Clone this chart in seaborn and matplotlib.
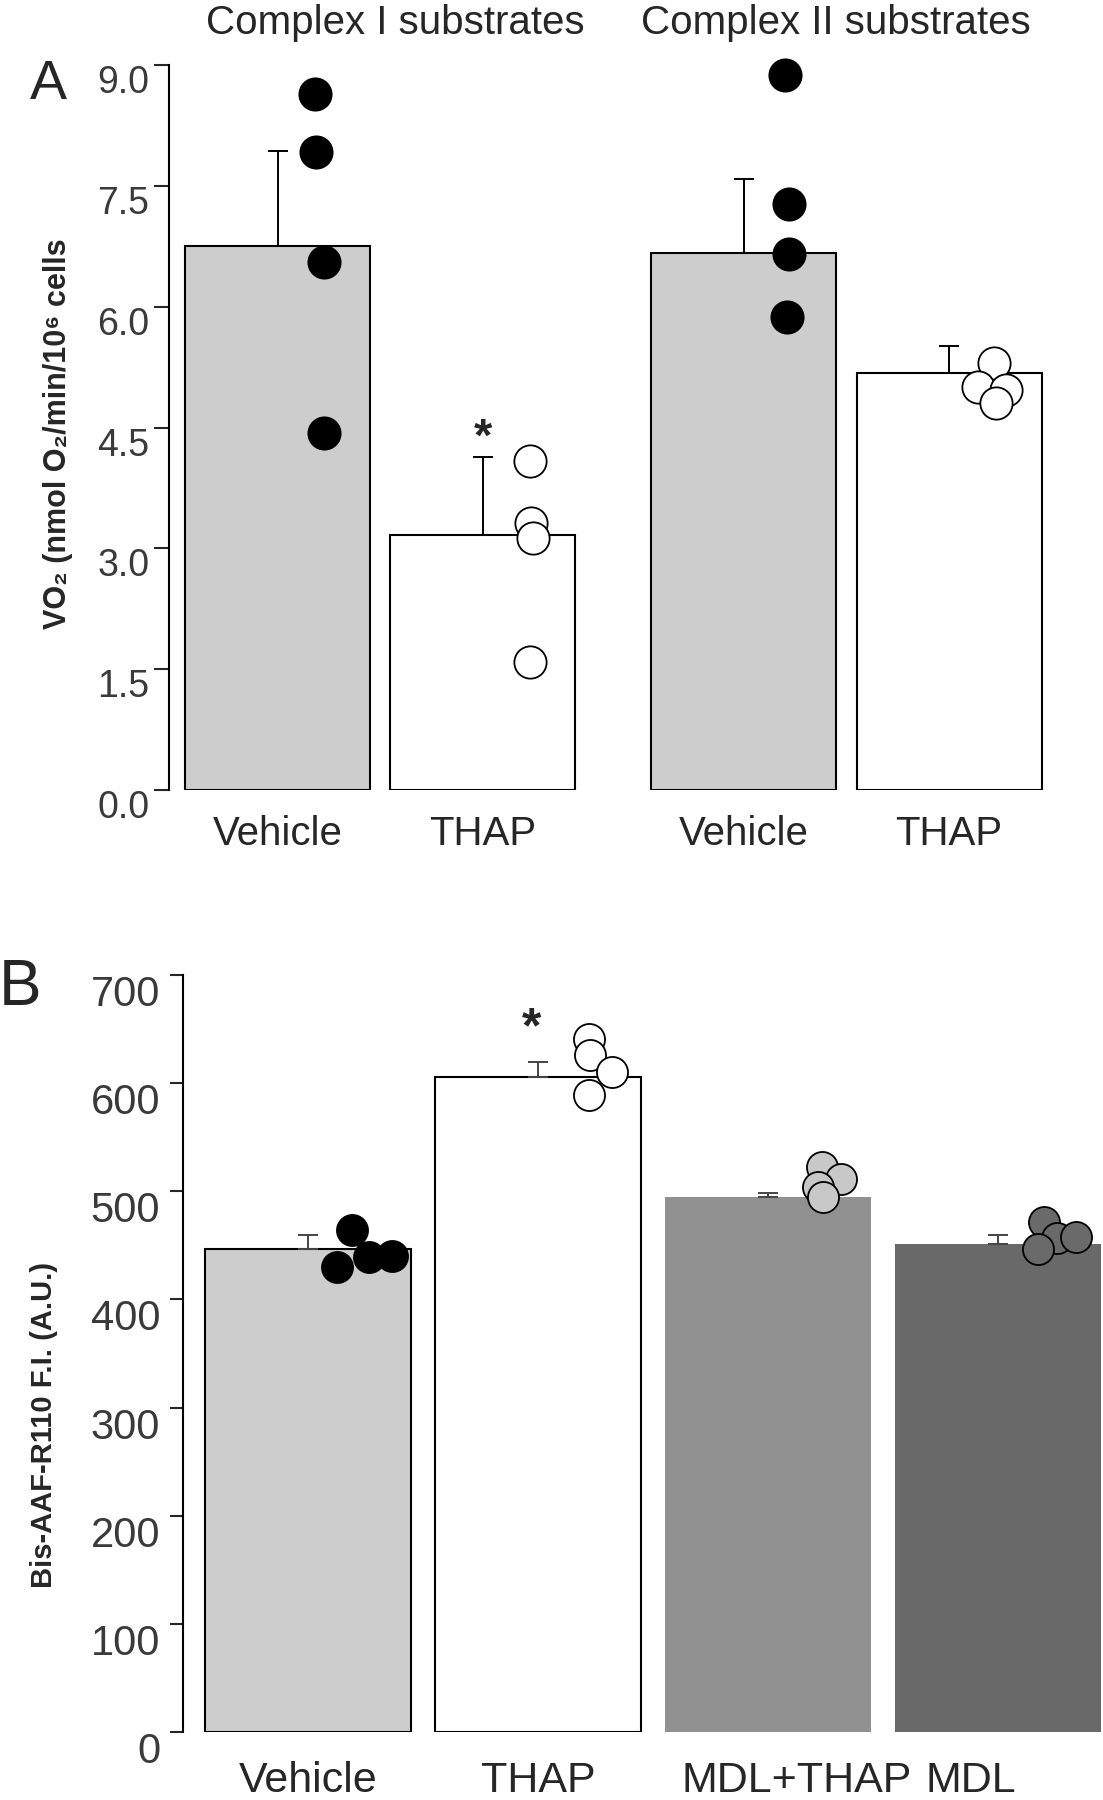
import numpy as np
import pandas as pd
import matplotlib
matplotlib.use('Agg')
import matplotlib.pyplot as plt
import matplotlib.transforms as mtransforms
import seaborn as sb

sb.set_style('ticks')
plt.rcParams['font.family'] = ['Liberation Sans', 'DejaVu Sans']
plt.rcParams['axes.linewidth'] = 1.5
plt.rcParams['axes.edgecolor'] = 'black'

# ---- panel A: oxygen consumption
a_titles = ['Complex I substrates', 'Complex II substrates']
a_names = ['Vehicle', 'THAP', 'Vehicle', 'THAP']
a_means = [6.75, 3.17, 6.67, 5.18]
a_sem = [1.18, 0.97, 0.91, 0.33]
a_points = [
    [8.64, 7.92, 6.55, 4.43],
    [4.08, 3.31, 3.13, 1.59],
    [8.88, 7.27, 6.66, 5.87],
    [5.30, 5.00, 4.97, 4.80],
]
a_yticks = [0.0, 1.5, 3.0, 4.5, 6.0, 7.5, 9.0]
a_signif = [False, True, False, False]

# ---- panel B: calpain activity
b_names = ['Vehicle', 'THAP', 'MDL+THAP', 'MDL']
b_means = [447, 606, 495, 451]
b_sem = [13, 14, 3, 9]
b_points = [
    [464, 430, 439.5, 440],
    [641, 626, 610, 589],
    [522, 511, 504, 495],
    [472, 457, 458, 447],
]
b_yticks = [0, 100, 200, 300, 400, 500, 600, 700]
b_signif = [False, True, False, False]

# styles
a_bar_colors = ['#cdcdcd', 'white', '#cdcdcd', 'white']
a_bar_edges = ['black'] * 4
a_dot_colors = ['black', 'white', 'black', 'white']
b_bar_colors = ['#cdcdcd', 'white', '#919191', '#696969']
b_bar_edges = ['black', 'black', 'none', 'none']
b_dot_colors = ['black', 'white', '#c8c8c8', '#6a6a6a']

# horizontal spread of the dots next to each bar (axis units)
a_jit = [[0.205, 0.21, 0.25, 0.25], [0.255, 0.26, 0.27, 0.255],
         [0.225, 0.245, 0.245, 0.235], [0.24, 0.155, 0.31, 0.255]]
b_jit = [[0.19, 0.125, 0.265, 0.365], [0.22, 0.225, 0.32, 0.22],
         [0.235, 0.32, 0.22, 0.24], [0.2, 0.26, 0.34, 0.175]]


def draw_panel(ax, pos, width, means, sem, points, colors, edges, dots, jit,
               ecolor, dot_size, signif, star_size, star_off):
    df = pd.DataFrame({'pos': pos, 'mean': means,
                       'key': [str(i) for i in range(len(pos))]})
    sb.barplot(data=df, x='pos', y='mean', hue='key',
               palette=dict(zip(df['key'], colors)), native_scale=True,
               width=width, errorbar=None, legend=False, saturation=1,
               ax=ax, zorder=1)
    for p, ec in zip(ax.patches, edges):
        p.set_edgecolor(ec)
        p.set_linewidth(1.5 if ec != 'none' else 0)

    ax.errorbar(pos, means, yerr=[np.zeros(len(sem)), sem], fmt='none',
                ecolor=ecolor, elinewidth=1.4, capsize=7.5, capthick=1.4,
                zorder=2)

    for x0, pts, c, j in zip(pos, points, dots, jit):
        sb.scatterplot(x=[x0 + d for d in j], y=pts, color=c, s=dot_size,
                       edgecolor='black', linewidth=1.3, ax=ax, zorder=4,
                       clip_on=False, legend=False)

    for x0, m, e, s in zip(pos, means, sem, signif):
        if s:
            ax.annotate('*', xy=(x0, m + e), xytext=star_off,
                        textcoords='offset points', ha='center',
                        va='baseline', fontsize=star_size,
                        fontweight='bold')


fig = plt.figure(figsize=(11.03, 18), dpi=100)

# ---------------- panel A
axA = fig.add_axes([169 / 1103, 1 - 790 / 1800, 885 / 1103, 725 / 1800])
a_pos = [g * 2.52 + i * 1.11 for g in range(2) for i in range(2)]
draw_panel(axA, a_pos, 1.0 / 1.11, a_means, a_sem, a_points, a_bar_colors,
           a_bar_edges, a_dot_colors, a_jit, 'black', 540, a_signif, 34,
           (0, 4.3))
axA.set_xlim(-0.5865, 4.197)
axA.set_ylim(0, 9)
axA.set_yticks(a_yticks, labels=[f'{v:.1f}' for v in a_yticks])
axA.set_xticks(a_pos, labels=a_names)
axA.tick_params(axis='y', length=11, width=1.5, pad=3, labelsize=27,
                labelcolor='#3a3a3a')
axA.tick_params(axis='x', length=0, pad=18, labelsize=29)
for lab in axA.get_yticklabels():
    lab.set_va('top')
sb.despine(ax=axA, bottom=True)
axA.set_xlabel('')
axA.set_ylabel('')

for g, t in enumerate(a_titles):
    xc = 395 if g == 0 else 836
    fig.text(xc / 1103, 1 - 23 / 1800, t, ha='center', va='center',
             fontsize=29)

fig.text(58 / 1103, 1 - 434 / 1800, 'VO₂ (nmol O₂/min/10⁶ cells',
         rotation=90, ha='center', va='center', fontsize=22,
         fontweight='bold')
fig.text(48 / 1103, 1 - 85 / 1800, 'A', ha='center', va='center',
         fontsize=40)

# ---------------- panel B
axB = fig.add_axes([183 / 1103, 1 - 1732 / 1800, 920 / 1103, 757 / 1800])
b_pos = list(range(len(b_names)))
draw_panel(axB, b_pos, 0.897, b_means, b_sem, b_points, b_bar_colors,
           b_bar_edges, b_dot_colors, b_jit, '#444444', 500, b_signif, 36,
           (-5, 13.5))
axB.set_xlim(-0.5458, 3.459)
axB.set_ylim(0, 700)
axB.set_yticks(b_yticks, labels=[str(v) for v in b_yticks])
axB.set_xticks(b_pos, labels=b_names)
axB.tick_params(axis='y', length=9.5, width=1.5, pad=7, labelsize=30,
                labelcolor='#3a3a3a')
axB.tick_params(axis='x', length=0, pad=21, labelsize=31)
for lab in axB.get_yticklabels():
    lab.set_va('top')
shift = {'MDL+THAP': 29, 'MDL': -27}
for lab in axB.get_xticklabels():
    dx = shift.get(lab.get_text(), 0)
    if dx:
        lab.set_transform(lab.get_transform() +
                          mtransforms.ScaledTranslation(dx / 100, 0,
                                                        fig.dpi_scale_trans))
sb.despine(ax=axB, bottom=True)
axB.set_xlabel('')
axB.set_ylabel('')

fig.text(44 / 1103, 1 - 1425 / 1800, 'Bis-AAF-R110 F.I. (A.U.)',
         rotation=90, ha='center', va='center', fontsize=21,
         fontweight='bold')
fig.text(20 / 1103, 1 - 988 / 1800, 'B', ha='center', va='center',
         fontsize=46)

fig.savefig('out.png', dpi=100)
